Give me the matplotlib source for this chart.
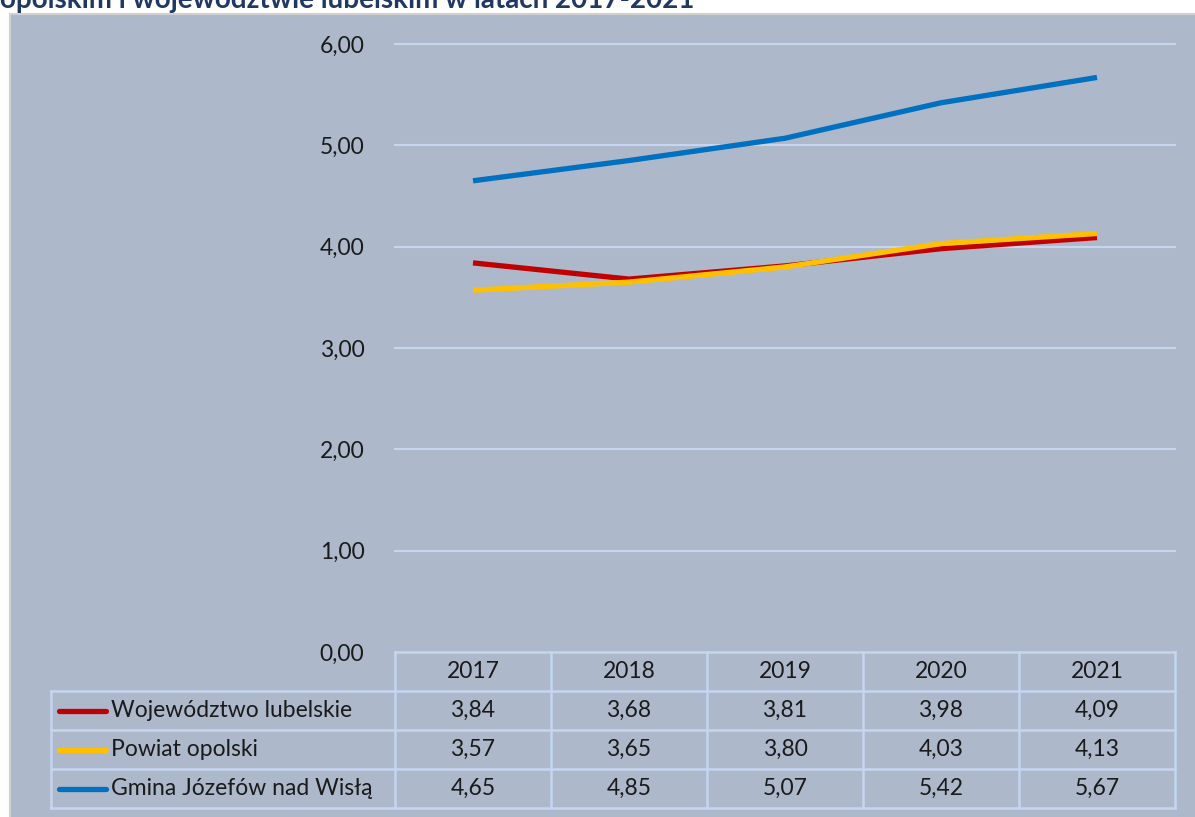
import matplotlib
matplotlib.use('Agg')
import matplotlib.pyplot as plt
from matplotlib.patches import Rectangle

plt.rcParams['font.family'] = ['Lato', 'DejaVu Sans']

years = ['2017', '2018', '2019', '2020', '2021']
series_names = ['Województwo lubelskie', 'Powiat opolski', 'Gmina Józefów nad Wisłą']
wojewodztwo = [3.84, 3.68, 3.81, 3.98, 4.09]
powiat = [3.57, 3.65, 3.80, 4.03, 4.13]
gmina = [4.65, 4.85, 5.07, 5.42, 5.67]
colors = ['#c00000', '#ffc000', '#0070c0']
yticks = [0, 1, 2, 3, 4, 5, 6]
title = 'opolskim i województwie lubelskim w latach 2017-2021'

W, H = 1195, 817
bg = '#adb9cb'
grid_c = '#c6d6f0'
txt_c = '#1a1a1a'
fs = 16.5

fig = plt.figure(figsize=(W / 100, H / 100), dpi=100)
fig.patch.set_facecolor('white')


def px(x0, y0, x1, y1):
    # pixel box (top-left origin) -> figure fraction
    return [x0 / W, 1 - y1 / H, (x1 - x0) / W, (y1 - y0) / H]


fig.add_artist(Rectangle((10 / W, -0.01), 1, 1.01 - 14 / H, transform=fig.transFigure,
                         facecolor=bg, edgecolor='#d0d0d0', lw=1.5, zorder=-5))
fig.text(0, 1 - 8 / H, title, fontsize=20, fontweight='bold', color='#203864',
         ha='left', va='baseline')

# main plot
ax = fig.add_axes(px(395, 44, 1175, 652))
ax.set_facecolor('none')
x = range(len(years))
data = [wojewodztwo, powiat, gmina]
for vals, c in zip(data, colors):
    ax.plot(x, vals, color=c, lw=3.8, solid_capstyle='butt', zorder=3)
ax.set_xlim(-0.5, len(years) - 0.5)
ax.set_ylim(0, 6)
ax.set_yticks(yticks)
ax.set_yticklabels([f'{v:.2f}'.replace('.', ',') for v in yticks], fontsize=fs, color=txt_c)
ax.tick_params(axis='y', length=0, pad=22)
ax.set_xticks([])
for v in yticks[1:]:
    ax.axhline(v, color=grid_c, lw=1.5, zorder=1, clip_on=False)
for s in ax.spines.values():
    s.set_visible(False)

# data table
tab = fig.add_axes(px(51, 652, 1175, 808))
tab.set_facecolor('none')
lead = (395 - 51) / 156
tab.set_xlim(-0.5 - lead, len(years) - 0.5)
tab.set_ylim(4, 0)
tab.axis('off')
left = -0.5 - lead
right = len(years) - 0.5
kw = dict(color=grid_c, lw=1.8, clip_on=False)
tab.plot([-0.5, right], [0, 0], **kw)
for r in range(1, 5):
    tab.plot([left, right], [r, r], **kw)
for i in range(len(years) + 1):
    tab.plot([i - 0.5, i - 0.5], [0, 4], **kw)
tab.plot([left, left], [1, 4], **kw)

for i, yr in enumerate(years):
    tab.text(i, 0.5, yr, ha='center', va='center', fontsize=fs, color=txt_c)
for r, (name, vals, c) in enumerate(zip(series_names, data, colors), start=1):
    tab.plot([left + 0.05, left + 0.35], [r + 0.5, r + 0.5], color=c, lw=3.8,
             solid_capstyle='round', clip_on=False)
    tab.text(left + 0.385, r + 0.5, name, ha='left', va='center', fontsize=fs, color=txt_c)
    for i, v in enumerate(vals):
        tab.text(i, r + 0.5, f'{v:.2f}'.replace('.', ','), ha='center', va='center',
                 fontsize=fs, color=txt_c)

fig.savefig('out.png', dpi=100, facecolor=fig.get_facecolor())
